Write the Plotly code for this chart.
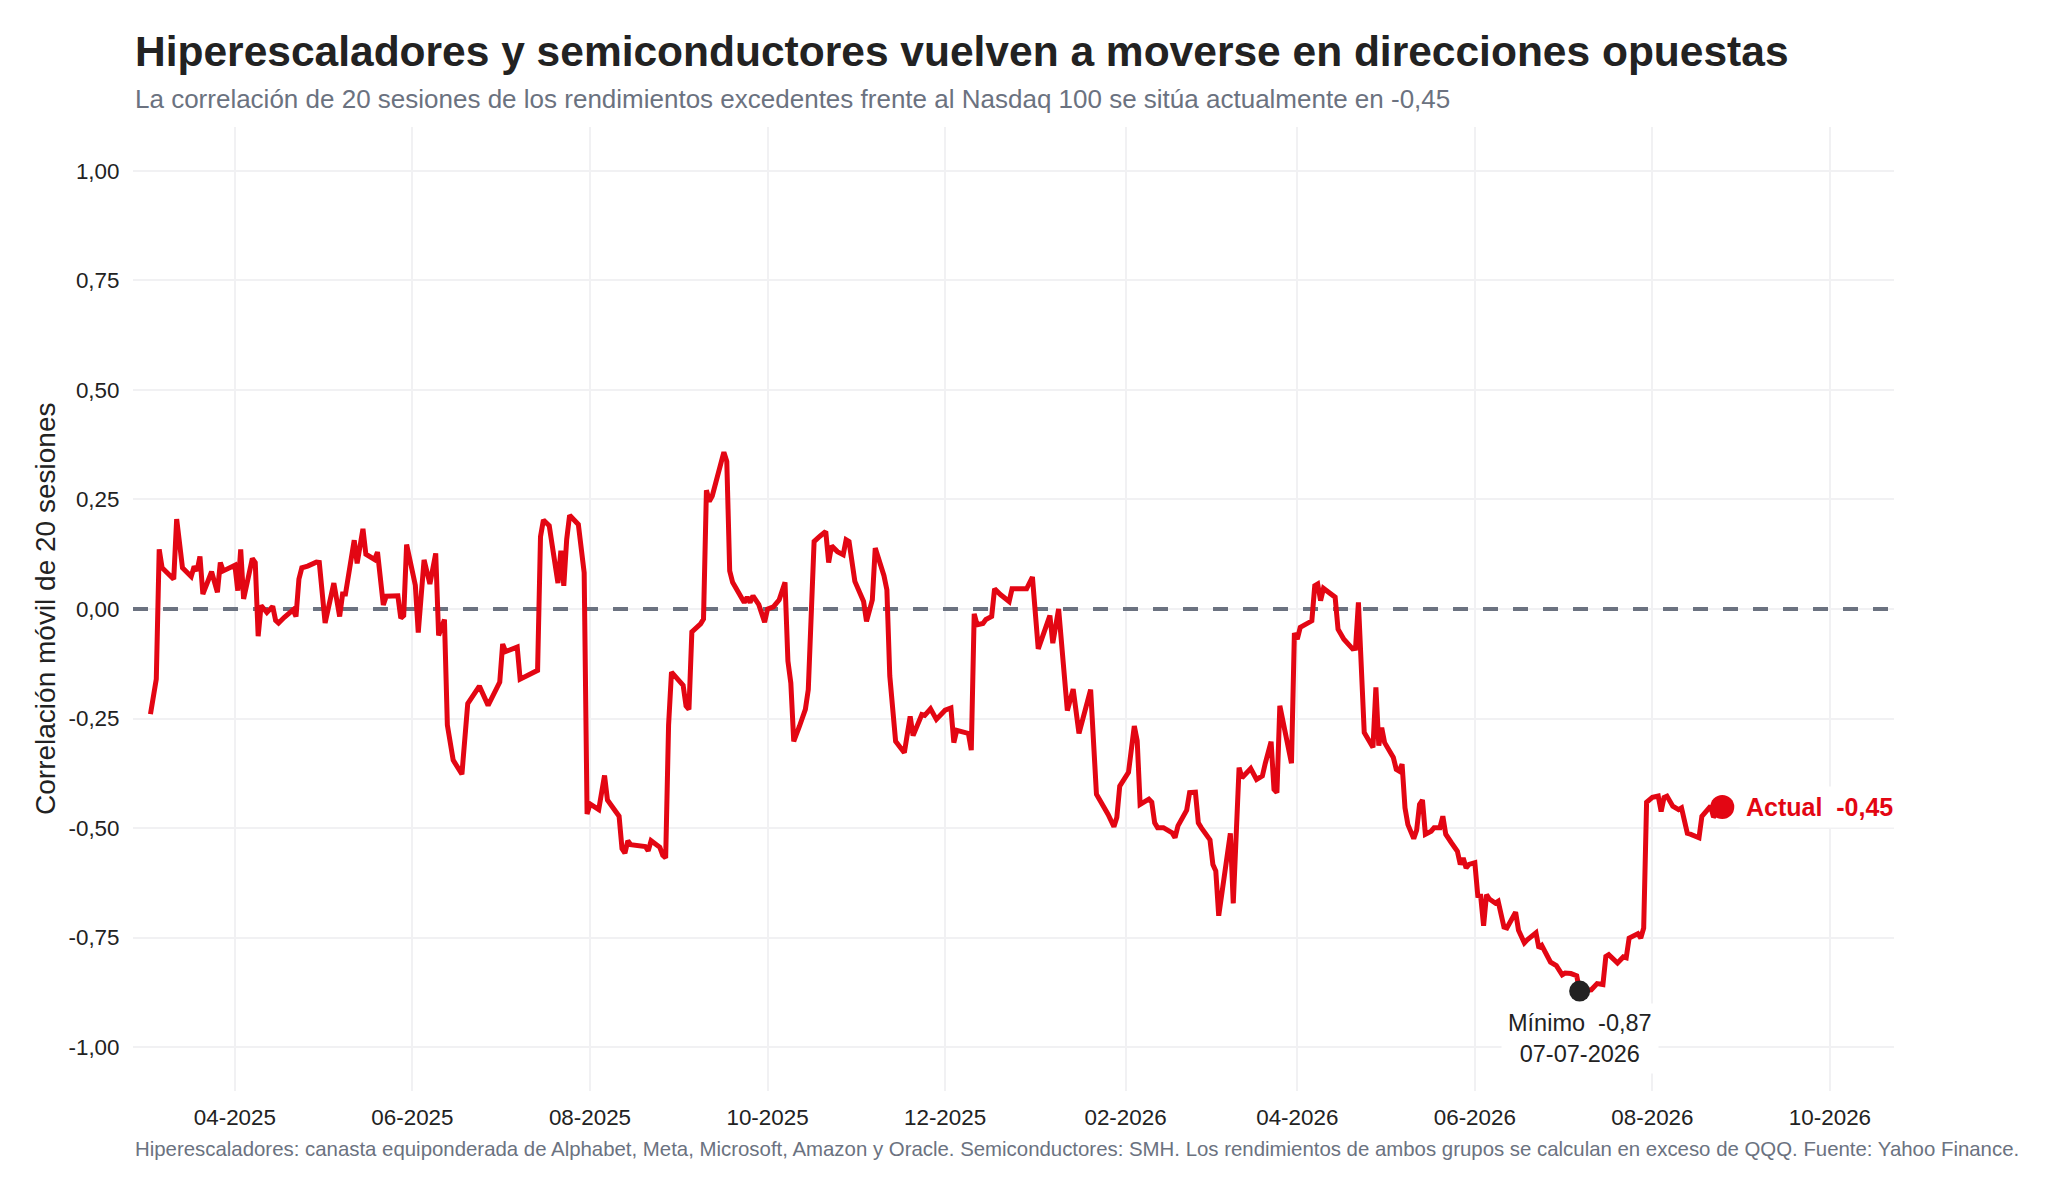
#!/usr/bin/env python3
# -*- coding: utf-8 -*-

import plotly.graph_objects as go

# -----------------------------
# Datos
# correlación móvil de 20 sesiones
# -----------------------------

fechas = [
  '2025-03-03', '2025-03-05', '2025-03-06', '2025-03-07', '2025-03-11', '2025-03-12', '2025-03-14',
  '2025-03-17', '2025-03-18', '2025-03-19', '2025-03-20', '2025-03-21', '2025-03-24', '2025-03-26',
  '2025-03-27', '2025-03-28', '2025-04-01', '2025-04-02', '2025-04-03', '2025-04-04', '2025-04-07',
  '2025-04-08', '2025-04-09', '2025-04-10', '2025-04-12', '2025-04-14', '2025-04-15', '2025-04-16',
  '2025-04-18', '2025-04-21', '2025-04-22', '2025-04-23', '2025-04-24', '2025-04-26', '2025-04-29',
  '2025-04-30', '2025-05-02', '2025-05-05', '2025-05-07', '2025-05-08', '2025-05-09', '2025-05-12',
  '2025-05-13', '2025-05-15', '2025-05-16', '2025-05-19', '2025-05-20', '2025-05-22', '2025-05-23',
  '2025-05-27', '2025-05-28', '2025-05-29', '2025-05-30', '2025-06-02', '2025-06-03', '2025-06-05',
  '2025-06-07', '2025-06-09', '2025-06-10', '2025-06-11', '2025-06-12', '2025-06-13', '2025-06-15',
  '2025-06-18', '2025-06-20', '2025-06-24', '2025-06-27', '2025-07-01', '2025-07-02', '2025-07-03',
  '2025-07-07', '2025-07-08', '2025-07-10', '2025-07-14', '2025-07-15', '2025-07-16', '2025-07-18',
  '2025-07-21', '2025-07-22', '2025-07-23', '2025-07-24', '2025-07-25', '2025-07-28', '2025-07-30',
  '2025-07-31', '2025-08-01', '2025-08-04', '2025-08-06', '2025-08-07', '2025-08-08', '2025-08-11',
  '2025-08-12', '2025-08-13', '2025-08-14', '2025-08-15', '2025-08-20', '2025-08-21', '2025-08-22',
  '2025-08-25', '2025-08-26', '2025-08-27', '2025-08-28', '2025-08-29', '2025-09-02', '2025-09-03',
  '2025-09-04', '2025-09-05', '2025-09-08', '2025-09-09', '2025-09-10', '2025-09-11', '2025-09-12',
  '2025-09-16', '2025-09-17', '2025-09-18', '2025-09-19', '2025-09-22', '2025-09-23', '2025-09-24',
  '2025-09-25', '2025-09-26', '2025-09-28', '2025-09-30', '2025-10-01', '2025-10-03', '2025-10-05',
  '2025-10-07', '2025-10-08', '2025-10-09', '2025-10-10', '2025-10-12', '2025-10-14', '2025-10-15',
  '2025-10-16', '2025-10-17', '2025-10-19', '2025-10-21', '2025-10-22', '2025-10-23', '2025-10-25',
  '2025-10-27', '2025-10-28', '2025-10-29', '2025-10-31', '2025-11-03', '2025-11-04', '2025-11-06',
  '2025-11-07', '2025-11-09', '2025-11-10', '2025-11-11', '2025-11-12', '2025-11-14', '2025-11-17',
  '2025-11-19', '2025-11-20', '2025-11-23', '2025-11-24', '2025-11-26', '2025-11-28', '2025-12-01',
  '2025-12-03', '2025-12-04', '2025-12-05', '2025-12-09', '2025-12-10', '2025-12-11', '2025-12-12',
  '2025-12-14', '2025-12-15', '2025-12-17', '2025-12-18', '2025-12-20', '2025-12-23', '2025-12-24',
  '2025-12-29', '2025-12-31', '2026-01-02', '2026-01-06', '2026-01-07', '2026-01-09', '2026-01-11',
  '2026-01-12', '2026-01-14', '2026-01-16', '2026-01-20', '2026-01-21', '2026-01-22', '2026-01-26',
  '2026-01-28', '2026-01-29', '2026-01-30', '2026-02-02', '2026-02-04', '2026-02-05', '2026-02-06',
  '2026-02-09', '2026-02-10', '2026-02-11', '2026-02-12', '2026-02-14', '2026-02-17', '2026-02-18',
  '2026-02-19', '2026-02-22', '2026-02-23', '2026-02-25', '2026-02-26', '2026-02-27', '2026-03-02',
  '2026-03-03', '2026-03-04', '2026-03-05', '2026-03-07', '2026-03-09', '2026-03-10', '2026-03-12',
  '2026-03-13', '2026-03-16', '2026-03-18', '2026-03-20', '2026-03-21', '2026-03-23', '2026-03-24',
  '2026-03-25', '2026-03-26', '2026-03-28', '2026-03-30', '2026-03-31', '2026-04-01', '2026-04-02',
  '2026-04-06', '2026-04-07', '2026-04-08', '2026-04-09', '2026-04-10', '2026-04-14', '2026-04-15',
  '2026-04-17', '2026-04-20', '2026-04-21', '2026-04-22', '2026-04-24', '2026-04-27', '2026-04-28',
  '2026-04-29', '2026-04-30', '2026-05-01', '2026-05-04', '2026-05-05', '2026-05-06', '2026-05-07',
  '2026-05-08', '2026-05-09', '2026-05-11', '2026-05-12', '2026-05-13', '2026-05-14', '2026-05-15',
  '2026-05-17', '2026-05-18', '2026-05-20', '2026-05-21', '2026-05-22', '2026-05-24', '2026-05-26',
  '2026-05-27', '2026-05-28', '2026-05-29', '2026-05-30', '2026-06-01', '2026-06-02', '2026-06-03',
  '2026-06-04', '2026-06-05', '2026-06-06', '2026-06-08', '2026-06-09', '2026-06-11', '2026-06-12',
  '2026-06-15', '2026-06-16', '2026-06-18', '2026-06-19', '2026-06-22', '2026-06-23', '2026-06-24',
  '2026-06-26', '2026-06-27', '2026-06-29', '2026-07-01', '2026-07-02', '2026-07-04', '2026-07-06',
  '2026-07-07', '2026-07-11', '2026-07-13', '2026-07-15', '2026-07-16', '2026-07-17', '2026-07-20',
  '2026-07-22', '2026-07-23', '2026-07-24', '2026-07-27', '2026-07-28', '2026-07-29', '2026-07-30',
  '2026-08-01', '2026-08-03', '2026-08-04', '2026-08-05', '2026-08-06', '2026-08-08', '2026-08-10',
  '2026-08-11', '2026-08-13', '2026-08-14', '2026-08-17', '2026-08-18', '2026-08-20', '2026-08-21',
  '2026-08-22', '2026-08-23', '2026-08-25',
]

correlacion = [
  -0.240, -0.160, 0.136, 0.094, 0.068, 0.205, 0.094,
  0.074, 0.097, 0.087, 0.120, 0.034, 0.085, 0.038,
  0.106, 0.087, 0.100, 0.042, 0.136, 0.023, 0.115,
  0.106, -0.062, 0.008, -0.008, 0.006, -0.026, -0.032,
  -0.019, -0.002, -0.017, 0.068, 0.094, 0.098, 0.107,
  0.106, -0.032, 0.059, -0.017, 0.034, 0.034, 0.157,
  0.104, 0.183, 0.125, 0.113, 0.130, 0.009, 0.029,
  0.030, -0.021, -0.015, 0.147, 0.054, -0.054, 0.112,
  0.057, 0.127, -0.060, -0.045, -0.024, -0.265, -0.345,
  -0.377, -0.216, -0.176, -0.220, -0.167, -0.080, -0.097,
  -0.087, -0.160, -0.153, -0.140, 0.165, 0.203, 0.190,
  0.059, 0.133, 0.053, 0.159, 0.214, 0.193, 0.083,
  -0.468, -0.445, -0.458, -0.380, -0.436, -0.445, -0.473,
  -0.547, -0.557, -0.529, -0.538, -0.542, -0.552, -0.529,
  -0.544, -0.562, -0.568, -0.265, -0.144, -0.174, -0.221,
  -0.229, -0.052, -0.034, -0.023, 0.271, 0.246, 0.258,
  0.358, 0.337, 0.087, 0.061, 0.027, 0.015, 0.027,
  0.015, 0.030, 0.010, -0.030, 0.000, 0.005, 0.021,
  0.061, -0.119, -0.169, -0.302, -0.267, -0.229, -0.184,
  -0.032, 0.154, 0.166, 0.177, 0.106, 0.144, 0.131,
  0.124, 0.158, 0.154, 0.063, 0.017, -0.028, 0.021,
  0.139, 0.097, 0.076, 0.044, -0.153, -0.302, -0.328,
  -0.245, -0.289, -0.241, -0.243, -0.228, -0.252, -0.231,
  -0.226, -0.305, -0.277, -0.284, -0.322, -0.011, -0.036,
  -0.033, -0.024, -0.017, 0.046, 0.033, 0.017, 0.046,
  0.046, 0.073, -0.091, -0.015, -0.078, 0.000, -0.152,
  -0.232, -0.183, -0.284, -0.184, -0.301, -0.423, -0.469,
  -0.497, -0.476, -0.404, -0.373, -0.267, -0.301, -0.446,
  -0.434, -0.441, -0.488, -0.499, -0.499, -0.511, -0.522,
  -0.495, -0.459, -0.419, -0.418, -0.488, -0.499, -0.527,
  -0.583, -0.598, -0.700, -0.606, -0.512, -0.672, -0.362,
  -0.385, -0.364, -0.389, -0.381, -0.352, -0.303, -0.412,
  -0.419, -0.221, -0.282, -0.352, -0.055, -0.069, -0.042,
  -0.027, 0.053, 0.057, 0.019, 0.047, 0.027, -0.046,
  -0.069, -0.091, -0.090, 0.015, -0.282, -0.316, -0.179,
  -0.312, -0.271, -0.305, -0.339, -0.366, -0.370, -0.354,
  -0.454, -0.492, -0.524, -0.505, -0.446, -0.436, -0.514,
  -0.507, -0.499, -0.499, -0.473, -0.514, -0.534, -0.553,
  -0.583, -0.568, -0.591, -0.583, -0.579, -0.654, -0.655,
  -0.723, -0.652, -0.662, -0.671, -0.667, -0.726, -0.728,
  -0.692, -0.733, -0.762, -0.755, -0.739, -0.774, -0.768,
  -0.796, -0.806, -0.814, -0.835, -0.831, -0.832, -0.837,
  -0.872, -0.869, -0.855, -0.857, -0.793, -0.789, -0.808,
  -0.794, -0.796, -0.751, -0.741, -0.751, -0.728, -0.441,
  -0.430, -0.427, -0.462, -0.430, -0.427, -0.450, -0.458,
  -0.454, -0.512, -0.514, -0.522, -0.473, -0.458, -0.450,
  -0.475, -0.466, -0.452,
]

y_ticks      = [ 1.0, 0.75, 0.5, 0.25, 0.0, -0.25, -0.5, -0.75, -1.0 ]
y_tick_texto = [ '1,00', '0,75', '0,50', '0,25', '0,00', '-0,25', '-0,50', '-0,75', '-1,00' ]

rango_x = [ '2025-02-25', '2026-10-23' ]

titulo = 'Hiperescaladores y semiconductores vuelven a moverse en direcciones opuestas'
nota = ( 'Hiperescaladores: canasta equiponderada de Alphabet, Meta, Microsoft, Amazon y Oracle. '
         'Semiconductores: SMH. Los rendimientos de ambos grupos se calculan en exceso de QQQ. '
         'Fuente: Yahoo Finance.' )

# -----------------------------
# Estilo
# -----------------------------

FUENTE = 'Arial, Liberation Sans, Helvetica, sans-serif'
ROJO   = '#e30613'
NEGRO  = '#222222'
GRIS   = '#6b7280'
REJILLA = '#f1f1f3'

def fmt( v ) :
  return f'{v:.2f}'.replace( '.', ',' )

def fecha_es( s ) :
  a, m, d = s.split( '-' )
  return f'{d}-{m}-{a}'

i_min = correlacion.index( min( correlacion ) )
actual = correlacion[ -1 ]

subtitulo = ( 'La correlación de 20 sesiones de los rendimientos excedentes frente al '
              f'Nasdaq 100 se sitúa actualmente en {fmt( actual )}' )

# -----------------------------
# Figura
# -----------------------------

fig = go.Figure( )

# línea de cero discontinua (como traza, para quedar sobre la rejilla y bajo la serie)
fig.add_trace( go.Scatter(
  x = rango_x,
  y = [ 0, 0 ],
  mode = 'lines',
  line = dict( color = GRIS, width = 4, dash = '15px,15px' ),
  hoverinfo = 'skip',
) )

fig.add_trace( go.Scatter(
  x = fechas,
  y = correlacion,
  mode = 'lines',
  line = dict( color = ROJO, width = 5 ),
  hoverinfo = 'skip',
) )

# punto mínimo
fig.add_trace( go.Scatter(
  x = [ fechas[ i_min ] ],
  y = [ correlacion[ i_min ] ],
  mode = 'markers',
  marker = dict( color = NEGRO, size = 21 ),
  hoverinfo = 'skip',
) )

# último valor
fig.add_trace( go.Scatter(
  x = [ fechas[ -1 ] ],
  y = [ actual ],
  mode = 'markers',
  marker = dict( color = ROJO, size = 24 ),
  hoverinfo = 'skip',
) )

fig.add_annotation(
  x = fechas[ -1 ], y = actual,
  xanchor = 'left', yanchor = 'middle', xshift = 17,
  text = f'<b>Actual\u00a0\u00a0{fmt( actual )}</b>',
  showarrow = False,
  font = dict( size = 25, color = ROJO ),
  bgcolor = 'white', borderpad = 6,
)

fig.add_annotation(
  x = fechas[ i_min ], y = correlacion[ i_min ],
  xanchor = 'center', yanchor = 'top', yshift = -12,
  text = f'Mínimo\u00a0\u00a0{fmt( correlacion[ i_min ] )}<br>{fecha_es( fechas[ i_min ] )}',
  showarrow = False, align = 'center',
  font = dict( size = 23.5, color = NEGRO ),
  bgcolor = 'white', borderpad = 6,
)

# título, subtítulo, nota y eje y
fig.add_annotation(
  xref = 'paper', yref = 'paper', x = 0, y = 1.0782,
  xanchor = 'left', yanchor = 'middle',
  text = f'<b>{titulo}</b>', showarrow = False,
  font = dict( size = 42.5, color = NEGRO ),
)
fig.add_annotation(
  xref = 'paper', yref = 'paper', x = 0, y = 1.029,
  xanchor = 'left', yanchor = 'middle',
  text = subtitulo, showarrow = False,
  font = dict( size = 26, color = GRIS ),
)
fig.add_annotation(
  xref = 'paper', yref = 'paper', x = 0, y = -0.0602,
  xanchor = 'left', yanchor = 'middle',
  text = nota, showarrow = False,
  font = dict( size = 20.4, color = GRIS ),
)
fig.add_annotation(
  xref = 'paper', yref = 'paper', x = -0.05, y = 0.5,
  xanchor = 'center', yanchor = 'middle', textangle = -90,
  text = 'Correlación móvil de 20 sesiones', showarrow = False,
  font = dict( size = 28, color = NEGRO ),
)

# la página añade 8 px de margen: el lienzo se reduce en la misma medida
fig.update_layout(
  width = 2040,
  height = 1187,
  margin = dict( l = 125, r = 154, t = 119, b = 104 ),
  paper_bgcolor = 'white',
  plot_bgcolor = 'white',
  font = dict( family = FUENTE, size = 22, color = NEGRO ),
  showlegend = False,
  xaxis = dict(
    type = 'date',
    range = rango_x,
    tick0 = '2025-04-01', dtick = 'M2', tickformat = '%m-%Y',
    showgrid = True, gridcolor = REJILLA, gridwidth = 2,
    zeroline = False, showline = False,
    ticks = 'outside', ticklen = 6, tickcolor = 'rgba(0,0,0,0)',
    tickfont = dict( size = 22.4, color = NEGRO ),
  ),
  yaxis = dict(
    range = [ -1.1, 1.1 ],
    tickvals = y_ticks, ticktext = y_tick_texto,
    showgrid = True, gridcolor = REJILLA, gridwidth = 2,
    zeroline = False, showline = False,
    ticks = 'outside', ticklen = 8, tickcolor = 'rgba(0,0,0,0)',
    tickfont = dict( size = 22.4, color = NEGRO ),
  ),
)

fig.write_html( 'out.html' )
